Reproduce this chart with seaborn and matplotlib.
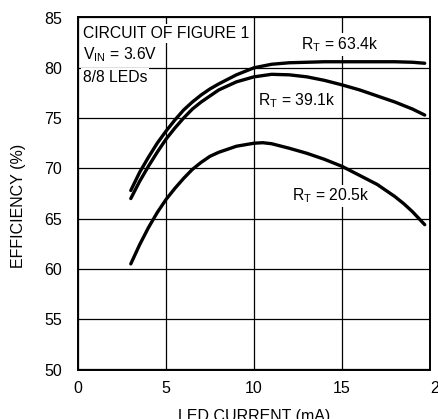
import matplotlib
matplotlib.use("Agg")
import matplotlib.pyplot as plt
import seaborn as sns
import pandas as pd

# LED current (mA) and efficiency (%) for each timing resistor
current_634 = [3.0, 3.5, 4.0, 4.5, 5.0, 5.5, 6.0, 6.5, 7.0, 7.5, 8.0, 9.0, 10.0, 11.0, 12.0, 13.0, 14.0, 15.0, 16.0, 17.0, 18.0, 19.0, 19.7]
eff_634 = [67.8, 69.6, 71.1, 72.5, 73.7, 74.8, 75.8, 76.6, 77.3, 77.9, 78.4, 79.3, 80.0, 80.35, 80.5, 80.55, 80.6, 80.6, 80.6, 80.6, 80.6, 80.55, 80.45]

current_391 = [3.0, 3.5, 4.0, 4.5, 5.0, 5.5, 6.0, 6.5, 7.0, 7.5, 8.0, 9.0, 10.0, 11.0, 12.0, 13.0, 14.0, 15.0, 16.0, 17.0, 18.0, 19.0, 19.7]
eff_391 = [67.0, 68.7, 70.2, 71.6, 72.9, 74.0, 75.0, 75.9, 76.6, 77.2, 77.8, 78.6, 79.1, 79.35, 79.3, 79.1, 78.75, 78.3, 77.8, 77.2, 76.6, 75.9, 75.3]

current_205 = [3.0, 3.5, 4.0, 4.5, 5.0, 5.5, 6.0, 6.5, 7.0, 7.5, 8.0, 9.0, 10.0, 10.5, 11.0, 12.0, 13.0, 14.0, 15.0, 16.0, 17.0, 18.0, 18.5, 19.0, 19.7]
eff_205 = [60.5, 62.4, 64.1, 65.6, 66.9, 68.0, 69.0, 69.9, 70.6, 71.2, 71.6, 72.2, 72.5, 72.55, 72.45, 72.0, 71.5, 70.9, 70.2, 69.3, 68.4, 67.2, 66.5, 65.7, 64.4]

x_ticks = [0, 5, 10, 15, 20]
y_ticks = [50, 55, 60, 65, 70, 75, 80, 85]

frames = []
for name, xs, ys in [("63.4k", current_634, eff_634),
                     ("39.1k", current_391, eff_391),
                     ("20.5k", current_205, eff_205)]:
    frames.append(pd.DataFrame({"current": xs, "efficiency": ys, "rt": name}))
df = pd.concat(frames, ignore_index=True)

sns.set_theme(style="white")
plt.rcParams["font.family"] = ["Liberation Sans", "DejaVu Sans"]
plt.rcParams["text.color"] = "black"
plt.rcParams["mathtext.fontset"] = "custom"
plt.rcParams["mathtext.rm"] = "Liberation Sans"
plt.rcParams["mathtext.it"] = "Liberation Sans"

FS = 11.5
TFS = 11.3
fig = plt.figure(figsize=(4.38, 4.19), dpi=100)
ax = fig.add_axes([78 / 438, 1 - 369.5 / 419, 352 / 438, 352 / 419])

sns.lineplot(data=df, x="current", y="efficiency", hue="rt",
             palette=["black", "black", "black"], linewidth=2.4,
             legend=False, sort=False, ax=ax, zorder=3)

ax.set_xlim(0, 20)
ax.set_ylim(50, 85)
ax.set_xticks(x_ticks)
ax.set_yticks(y_ticks)
ax.set_xticklabels([str(t) for t in x_ticks])
ax.set_yticklabels([str(t) for t in y_ticks])
ax.tick_params(axis="both", length=0, labelsize=FS, colors="black")
ax.tick_params(axis="y", pad=11.5)
ax.tick_params(axis="x", pad=8.3)
ax.get_xticklabels()[-1].set_ha("left")

ax.grid(True, color="black", linewidth=0.9)
ax.set_axisbelow(True)
for sp in ax.spines.values():
    sp.set_color("black")
    sp.set_linewidth(1.4)

ax.set_xlabel("LED CURRENT (mA)", fontsize=FS, color="black", va="top")
ax.set_ylabel("EFFICIENCY (%)", fontsize=FS, color="black", va="center")
ax.xaxis.set_label_coords(0.5, -0.112)
ax.yaxis.set_label_coords(-0.170, 0.465)

box = dict(facecolor="white", edgecolor="none", pad=1.5)
txt = dict(fontsize=TFS, va="baseline", ha="left", color="black", bbox=box)
ax.text(0.28, 82.93, "CIRCUIT OF FIGURE 1", zorder=4, **txt)
ax.text(0.28, 80.85, r"V$_{\mathrm{IN}}$ = 3.6V", zorder=4, **txt)
ax.text(0.28, 78.6, "8/8 LEDs", zorder=4, **txt)

ax.text(12.67, 81.84, r"R$_{\mathrm{T}}$ = 63.4k", zorder=4, **txt)
ax.text(10.21, 76.3, r"R$_{\mathrm{T}}$ = 39.1k", zorder=4, **txt)
ax.text(12.14, 66.79, r"R$_{\mathrm{T}}$ = 20.5k", zorder=2, **txt)

fig.savefig("out.png", dpi=100, facecolor="white")
